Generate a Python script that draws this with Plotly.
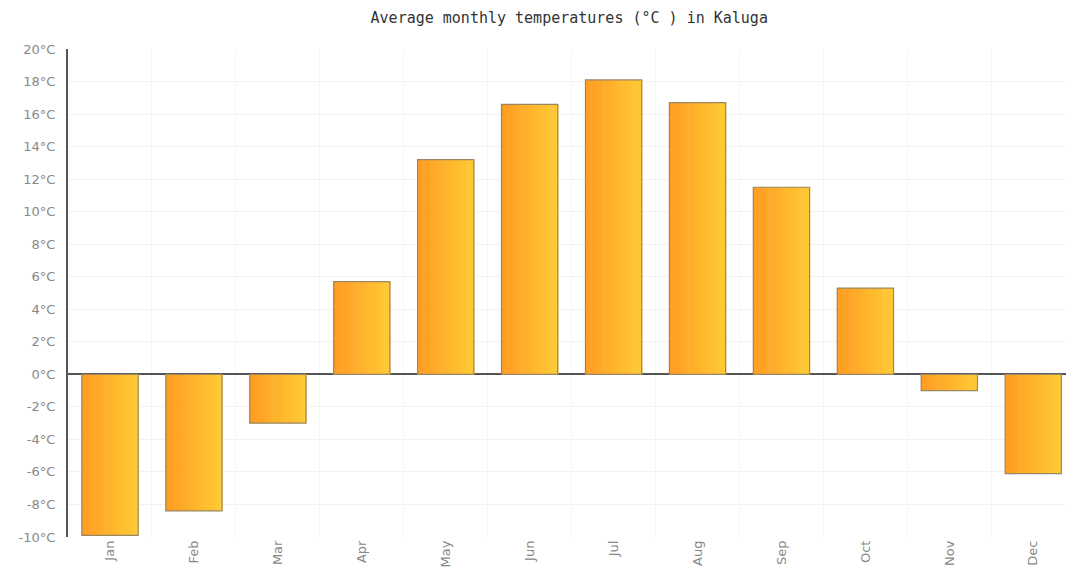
import plotly.graph_objects as go

months = ["Jan", "Feb", "Mar", "Apr", "May", "Jun", "Jul", "Aug", "Sep", "Oct", "Nov", "Dec"]
temps = [-9.9, -8.4, -3.0, 5.7, 13.2, 16.6, 18.1, 16.7, 11.5, 5.3, -1.0, -6.1]
y_ticks = list(range(-10, 21, 2))
y_labels = [f"{v}°C" for v in y_ticks]

BAR_W = 0.67
N = 30
c0 = (255, 156, 34)
c1 = (255, 202, 52)

fig = go.Figure()
for i in range(N):
    t = i / (N - 1)
    col = "rgb({},{},{})".format(*[round(a + (b - a) * t) for a, b in zip(c0, c1)])
    fig.add_trace(go.Bar(
        x=months, y=temps,
        width=BAR_W / N * 1.3,
        offset=-BAR_W / 2 + i * BAR_W / N,
        marker=dict(color=col, line=dict(width=0)),
        hoverinfo="skip", showlegend=False,
    ))
fig.add_trace(go.Bar(
    x=months, y=temps, width=BAR_W, offset=-BAR_W / 2,
    marker=dict(color="rgba(0,0,0,0)", line=dict(color="#9a8660", width=1.2)),
    hoverinfo="skip", showlegend=False,
))

fig.update_layout(
    width=1066, height=574,
    margin=dict(l=68, r=0, t=49, b=37),
    paper_bgcolor="white", plot_bgcolor="white",
    barmode="overlay",
    title=dict(text="Average monthly temperatures (°C ) in Kaluga",
               x=0.534, xanchor="center", y=0.969, yanchor="middle",
               font=dict(family="DejaVu Sans Mono", size=15, color="#333")),
    xaxis=dict(
        type="category", range=[-0.5, 11.39],
        tickangle=-90, tickfont=dict(family="DejaVu Sans", size=13, color="#888"),
        showgrid=True, gridcolor="#f4f4f4", tickson="boundaries",
        ticks="", showline=False, zeroline=False,
    ),
    yaxis=dict(
        range=[-10, 20], tickvals=y_ticks, ticktext=y_labels,
        tickfont=dict(family="DejaVu Sans", size=13, color="#888"),
        showgrid=True, gridcolor="#f2f2f2",
        zeroline=True, zerolinecolor="#555", zerolinewidth=2,
        showline=True, linecolor="#555", linewidth=2,
        ticks="", ticklen=0, ticklabelstandoff=8,
    ),
    font=dict(family="DejaVu Sans"),
)

fig.write_html(
    "out.html",
    config={"displayModeBar": False, "staticPlot": True},
    post_script="document.body.style.margin='0';document.body.style.overflow='hidden';",
)
